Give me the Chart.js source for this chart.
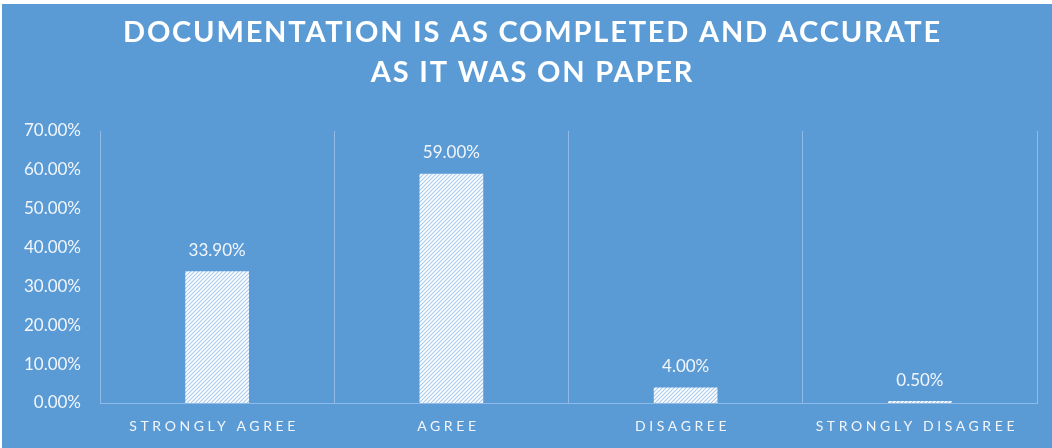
<!DOCTYPE html>
<html>
<head>
<meta charset="utf-8">
<script src="https://cdn.jsdelivr.net/npm/chart.js@4"></script>
<style>
  html, body { margin: 0; padding: 0; background: #ffffff; }
  #wrap { position: absolute; left: 0; top: 0; width: 1052px; height: 448px; }
</style>
</head>
<body>
<div id="wrap"><canvas id="c" width="1052" height="448"></canvas></div>
<script>
const titleLines = ['DOCUMENTATION IS AS COMPLETED AND ACCURATE', 'AS IT WAS ON PAPER'];
const categories = ['STRONGLY AGREE', 'AGREE', 'DISAGREE', 'STRONGLY DISAGREE'];
const values = [33.9, 59.0, 4.0, 0.5];
const yMin = 0, yMax = 70, yStep = 10;

const BG = '#5b9bd5';
const GRID = '#8fbbe6';
const TEXT = '#f2f6fb';

function makePattern() {
  const p = document.createElement('canvas');
  p.width = 4; p.height = 4;
  const g = p.getContext('2d');
  g.fillStyle = '#a9cbee';
  g.fillRect(0, 0, 4, 4);
  g.strokeStyle = '#ffffff';
  g.lineWidth = 1.7;
  g.beginPath();
  g.moveTo(-1, 5); g.lineTo(5, -1);
  g.moveTo(-1, 1); g.lineTo(1, -1);
  g.moveTo(3, 5); g.lineTo(5, 3);
  g.stroke();
  return g.createPattern(p, 'repeat');
}

const bgPlugin = {
  id: 'bg',
  beforeDraw(chart) {
    const ctx = chart.ctx;
    ctx.save();
    ctx.fillStyle = '#ffffff';
    ctx.fillRect(0, 0, chart.width, chart.height);
    ctx.fillStyle = BG;
    ctx.fillRect(2, 4, chart.width - 2, chart.height - 4);
    ctx.restore();
    const sx = chart.scales.x;
    if (sx && !sx._lsPatched) {
      const orig = sx.drawLabels.bind(sx);
      sx.drawLabels = function (area) {
        const c = chart.ctx;
        c.save();
        c.letterSpacing = '3.6px';
        orig(area);
        c.restore();
      };
      sx._lsPatched = true;
    }
    const tb = chart.titleBlock;
    if (tb && !tb._lsPatched) {
      const origT = tb.draw.bind(tb);
      tb.draw = function () {
        const c = chart.ctx;
        c.save();
        c.letterSpacing = '1.8px';
        c.translate(14, 0);
        origT();
        c.restore();
      };
      tb._lsPatched = true;
    }
  }
};

const valueLabels = {
  id: 'valueLabels',
  afterDatasetsDraw(chart) {
    const ctx = chart.ctx;
    const meta = chart.getDatasetMeta(0);
    ctx.save();
    ctx.font = '17px Lato';
    ctx.fillStyle = TEXT;
    ctx.textAlign = 'center';
    ctx.textBaseline = 'middle';
    meta.data.forEach((bar, i) => {
      ctx.fillText(values[i].toFixed(2) + '%', bar.x, bar.y - 21);
    });
    ctx.restore();
  }
};

const ctx = document.getElementById('c').getContext('2d');
new Chart(ctx, {
  type: 'bar',
  data: {
    labels: categories,
    datasets: [{
      data: values,
      backgroundColor: makePattern(),
      borderWidth: 0,
      barPercentage: 0.34,
      categoryPercentage: 0.8
    }]
  },
  options: {
    responsive: false,
    animation: false,
    events: [],
    layout: { padding: { top: 13, right: 15, bottom: 0, left: 0 } },
    plugins: {
      legend: { display: false },
      tooltip: { enabled: false },
      title: {
        display: true,
        text: titleLines,
        color: '#ffffff',
        font: { family: 'Lato', size: 29, weight: 'bold', lineHeight: 40 / 29 },
        padding: { top: 0, bottom: 38 }
      }
    },
    scales: {
      x: {
        grid: { display: true, offset: true, color: GRID, lineWidth: 1, drawTicks: false },
        border: { display: true, color: GRID },
        ticks: { color: TEXT, font: { family: 'Lato', size: 14 }, padding: 15, maxRotation: 0, labelOffset: -3 },
        afterFit(s) { s.height = 45; }
      },
      y: {
        min: yMin, max: yMax,
        grid: { display: false, drawTicks: false },
        border: { display: false },
        ticks: {
          stepSize: yStep,
          color: TEXT,
          font: { family: 'Lato', size: 17 },
          padding: 19,
          callback: v => v.toFixed(2) + '%'
        },
        afterFit(s) { s.width = 100; }
      }
    }
  },
  plugins: [bgPlugin, valueLabels]
});
</script>
</body>
</html>
